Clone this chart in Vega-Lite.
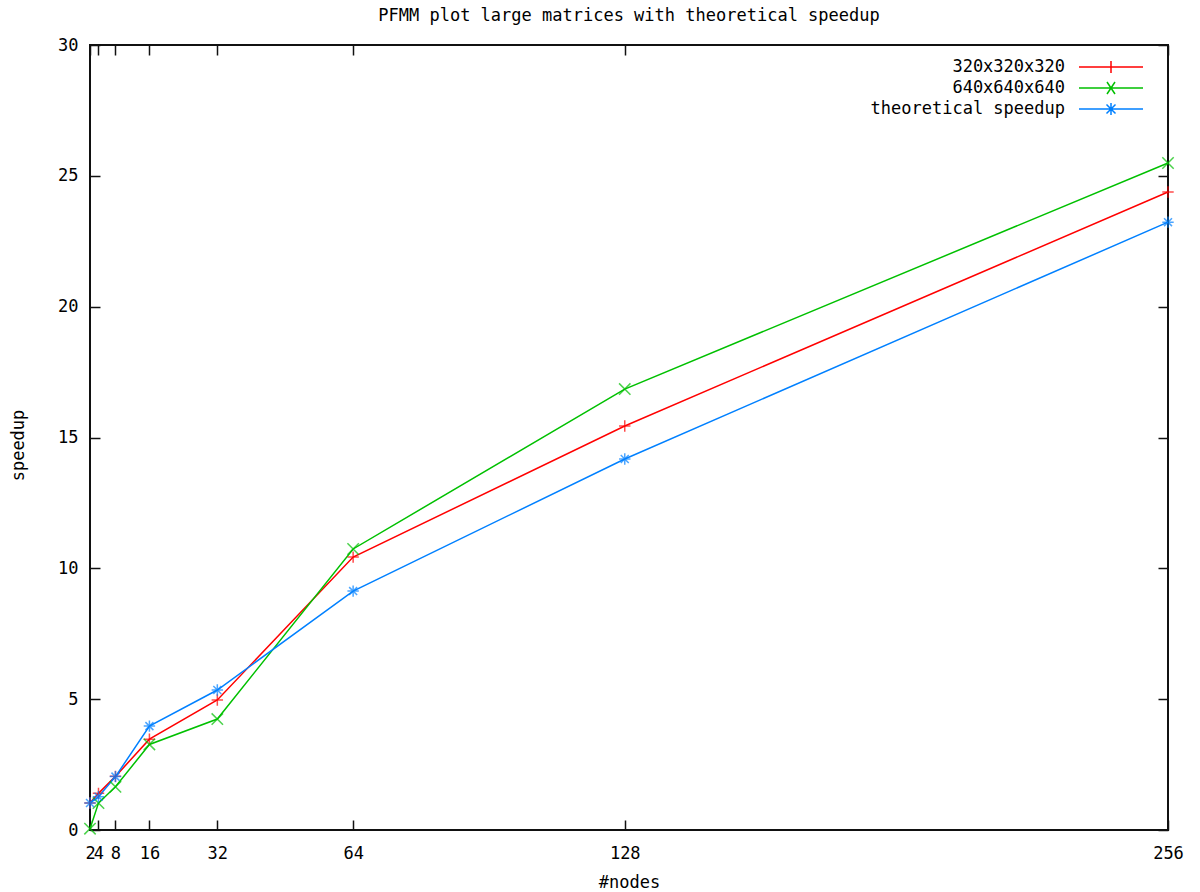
{
  "$schema": "https://vega.github.io/schema/vega-lite/v6.json",
  "autosize": "none",
  "width": 1078,
  "height": 785,
  "padding": {"left": 90, "top": 45, "right": 32, "bottom": 62},
  "background": "white",
  "title": {"text": "PFMM plot large matrices with theoretical speedup", "font": "DejaVu Sans Mono", "fontSize": 17, "fontWeight": "normal", "color": "#000", "offset": 11, "anchor": "middle"},
  "config": {
    "view": {"stroke": "#111", "strokeWidth": 2},
    "axis": {"domain": false, "grid": false, "tickColor": "#111", "tickWidth": 1.5, "tickSize": -10, "labelFont": "DejaVu Sans Mono", "labelFontSize": 17, "labelColor": "#000", "titleFont": "DejaVu Sans Mono", "titleFontSize": 17, "titleFontWeight": "normal", "titleColor": "#000", "labelOverlap": false, "labelBound": false, "labelFlush": false},
    "legend": {"labelFont": "DejaVu Sans Mono", "labelFontSize": 17, "labelColor": "#000", "labelLimit": 0}
  },
  "data": {"values": [
    {"nodes": 2, "speedup": 1.03, "series": "320x320x320"},
    {"nodes": 4, "speedup": 1.4, "series": "320x320x320"},
    {"nodes": 8, "speedup": 2.05, "series": "320x320x320"},
    {"nodes": 16, "speedup": 3.47, "series": "320x320x320"},
    {"nodes": 32, "speedup": 4.97, "series": "320x320x320"},
    {"nodes": 64, "speedup": 10.43, "series": "320x320x320"},
    {"nodes": 128, "speedup": 15.44, "series": "320x320x320"},
    {"nodes": 256, "speedup": 24.38, "series": "320x320x320"},
    {"nodes": 2, "speedup": 0.05, "series": "640x640x640"},
    {"nodes": 4, "speedup": 1.03, "series": "640x640x640"},
    {"nodes": 8, "speedup": 1.65, "series": "640x640x640"},
    {"nodes": 16, "speedup": 3.27, "series": "640x640x640"},
    {"nodes": 32, "speedup": 4.24, "series": "640x640x640"},
    {"nodes": 64, "speedup": 10.74, "series": "640x640x640"},
    {"nodes": 128, "speedup": 16.85, "series": "640x640x640"},
    {"nodes": 256, "speedup": 25.49, "series": "640x640x640"},
    {"nodes": 2, "speedup": 1.03, "series": "theoretical speedup"},
    {"nodes": 4, "speedup": 1.27, "series": "theoretical speedup"},
    {"nodes": 8, "speedup": 2.04, "series": "theoretical speedup"},
    {"nodes": 16, "speedup": 3.97, "series": "theoretical speedup"},
    {"nodes": 32, "speedup": 5.35, "series": "theoretical speedup"},
    {"nodes": 64, "speedup": 9.13, "series": "theoretical speedup"},
    {"nodes": 128, "speedup": 14.18, "series": "theoretical speedup"},
    {"nodes": 256, "speedup": 23.23, "series": "theoretical speedup"}
  ]},
  "layer": [
    {
      "mark": {"type": "line", "strokeWidth": 1.5},
      "encoding": {
        "x": {"field": "nodes", "type": "quantitative", "scale": {"domain": [2, 256], "nice": false, "zero": false},
              "axis": {"orient": "bottom", "values": [2, 4, 8, 16, 32, 64, 128, 256], "title": "#nodes", "labelPadding": 25, "titleY": 52, "titleBaseline": "middle"}},
        "y": {"field": "speedup", "type": "quantitative", "scale": {"domain": [0, 30], "nice": false},
              "axis": {"orient": "left", "values": [0, 5, 10, 15, 20, 25, 30], "title": "speedup", "labelPadding": 22, "titleX": -72, "titleY": 400, "titleAngle": -90, "titleAlign": "center", "titleBaseline": "middle"}},
        "color": {"field": "series", "type": "nominal",
                  "scale": {"domain": ["320x320x320", "640x640x640", "theoretical speedup"], "range": ["#ff0000", "#00c000", "#0080ff"]},
                  "legend": {"title": null, "orient": "none", "legendX": 1010, "legendY": 11, "padding": 0, "symbolSize": 400, "symbolStrokeWidth": 1.5, "labelAlign": "right", "labelOffset": -57, "rowPadding": 1,
                    "encode": {"symbols": {"update": {"fill": {"value": "transparent"}, "shape": {"signal": "datum.value === '320x320x320' ? 'M-3.2,0H3.2M0,-0.6V0.6' : datum.value === '640x640x640' ? 'M-3.2,0H3.2M-0.4,-0.6L0.4,0.6M-0.4,0.6L0.4,-0.6' : 'M-3.2,0H3.2M0,-0.6V0.6M-0.45,-0.45L0.45,0.45M-0.45,0.45L0.45,-0.45'"}}}}}}
      }
    },
    {
      "transform": [{"filter": "datum.series === '320x320x320'"}],
      "mark": {"type": "point", "filled": false, "strokeWidth": 1.5, "size": 130, "shape": "M-1,0H1M0,-1V1"},
      "encoding": {
        "x": {"field": "nodes", "type": "quantitative", "axis": {"orient": "top", "values": [2, 4, 8, 16, 32, 64, 128, 256], "labels": false, "title": null}},
        "y": {"field": "speedup", "type": "quantitative", "axis": {"orient": "right", "values": [0, 5, 10, 15, 20, 25, 30], "labels": false, "title": null}},
        "color": {"field": "series", "type": "nominal", "legend": null}
      }
    },
    {
      "transform": [{"filter": "datum.series === '640x640x640'"}],
      "mark": {"type": "point", "filled": false, "strokeWidth": 1.5, "size": 130, "shape": "M-1,-1L1,1M-1,1L1,-1"},
      "encoding": {
        "x": {"field": "nodes", "type": "quantitative", "axis": null},
        "y": {"field": "speedup", "type": "quantitative", "axis": null},
        "color": {"field": "series", "type": "nominal", "legend": null}
      }
    },
    {
      "transform": [{"filter": "datum.series === 'theoretical speedup'"}],
      "mark": {"type": "point", "filled": false, "strokeWidth": 1.5, "size": 130, "shape": "M-1,0H1M0,-1V1M-0.7,-0.7L0.7,0.7M-0.7,0.7L0.7,-0.7"},
      "encoding": {
        "x": {"field": "nodes", "type": "quantitative", "axis": null},
        "y": {"field": "speedup", "type": "quantitative", "axis": null},
        "color": {"field": "series", "type": "nominal", "legend": null}
      }
    }
  ],
  "resolve": {"axis": {"x": "independent", "y": "independent"}}
}
